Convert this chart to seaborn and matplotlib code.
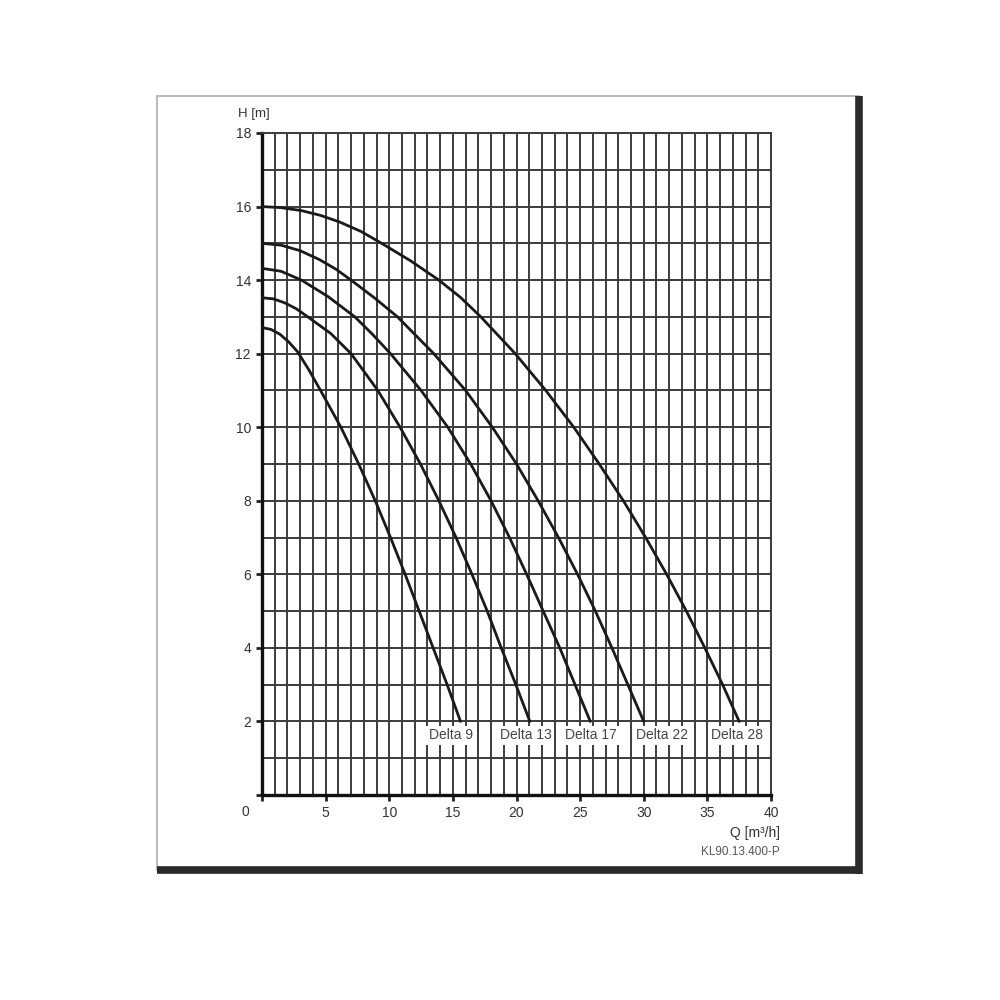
import seaborn as sns
import matplotlib.pyplot as plt
import numpy as np
import pandas as pd

# Pump curves: flow Q [m3/h] vs head H [m]
delta9_q = [0, 0.7, 1.4, 2.1, 2.8, 3.7, 4.6, 6.2, 7.6, 8.9, 10.1, 11.25, 12.35, 13.45, 14.55, 15.6]
delta9_h = [12.71, 12.66, 12.53, 12.32, 12.05, 11.55, 11, 10, 9, 8, 7, 6, 5, 4, 3, 2]

delta13_q = [0, 0.9, 1.8, 2.7, 3.6, 5.4, 7.0, 9.1, 10.85, 12.45, 13.9, 15.25, 16.5, 17.7, 18.8, 19.95, 21.05]
delta13_h = [13.52, 13.49, 13.38, 13.22, 13.0, 12.55, 12, 11, 10, 9, 8, 7, 6, 5, 4, 3, 2]

delta17_q = [0, 1.5, 3.1, 5.2, 7.3, 8.7, 10.1, 12.5, 14.6, 16.4, 18.0, 19.45, 20.8, 22.1, 23.4, 24.6, 25.8]
delta17_h = [14.32, 14.24, 14.0, 13.55, 13, 12.52, 12, 11, 10, 9, 8, 7, 6, 5, 4, 3, 2]

delta22_q = [0, 1.5, 3.0, 4.5, 5.8, 7.0, 8.9, 10.65, 13.5, 16.0, 18.1, 20.0, 21.7, 23.3, 24.8, 26.2, 27.5,
             28.75, 30.0]
delta22_h = [15, 14.95, 14.8, 14.56, 14.3, 14.0, 13.5, 13, 12, 11, 10, 9, 8, 7, 6, 5, 4, 3, 2]

delta28_q = [0, 1.5, 3.1, 4.6, 6.1, 7.8, 9.4, 11.7, 13.9, 15.6, 17.2, 19.9, 22.3, 24.5, 26.5, 28.4, 30.15,
             31.8, 33.35, 34.8, 36.2, 37.5]
delta28_h = [16, 15.97, 15.89, 15.76, 15.58, 15.32, 15, 14.52, 14, 13.53, 13, 12, 11, 10, 9, 8, 7, 6, 5, 4,
             3, 2]

models = ["Delta 9", "Delta 13", "Delta 17", "Delta 22", "Delta 28"]
label_q = [14.85, 20.75, 25.85, 31.4, 37.3]
label_h = 1.63

x_ticks = [0, 5, 10, 15, 20, 25, 30, 35, 40]
x_tick_labels = ["", "5", "10", "15", "20", "25", "30", "35", "40"]
y_ticks = [0, 2, 4, 6, 8, 10, 12, 14, 16, 18]
y_tick_labels = ["", "2", "4", "6", "8", "10", "12", "14", "16", "18"]

curves = {
    "Delta 9": (delta9_q, delta9_h),
    "Delta 13": (delta13_q, delta13_h),
    "Delta 17": (delta17_q, delta17_h),
    "Delta 22": (delta22_q, delta22_h),
    "Delta 28": (delta28_q, delta28_h),
}
df = pd.concat(
    [pd.DataFrame({"Q": q, "H": h, "model": name}) for name, (q, h) in curves.items()],
    ignore_index=True,
)

sns.set_style("white")
plt.rcParams["font.family"] = ["Liberation Sans", "DejaVu Sans"]

fig = plt.figure(figsize=(10, 10), dpi=100)
ax = fig.add_axes([0.262, 0.205, 0.509, 0.662])

sns.lineplot(
    data=df, x="Q", y="H", hue="model", units="model", estimator=None,
    palette=["#1a1a1a"] * 5, linewidth=2, legend=False, sort=False, ax=ax, zorder=4,
)
for line in ax.lines:
    line.set_solid_joinstyle("round")

ax.set_xlim(0, 40)
ax.set_ylim(0, 18)
ax.set_xticks(x_ticks)
ax.set_xticklabels(x_tick_labels)
ax.set_yticks(y_ticks)
ax.set_yticklabels(y_tick_labels)
ax.set_xticks(np.arange(0, 41, 1), minor=True)
ax.set_yticks(np.arange(0, 19, 1), minor=True)
ax.grid(which="both", color="#3c3c3c", linewidth=1.4)
ax.set_axisbelow(True)
ax.tick_params(which="minor", length=0)
ax.tick_params(which="major", direction="out", length=4, width=2, color="#222222",
               labelsize=10, labelcolor="#333333", pad=4, bottom=True, left=True)
ax.set_xlabel("")
ax.set_ylabel("")

for side in ["left", "bottom"]:
    ax.spines[side].set_color("#111111")
    ax.spines[side].set_linewidth(2.4)
for side in ["top", "right"]:
    ax.spines[side].set_color("#3c3c3c")
    ax.spines[side].set_linewidth(1.4)

for name, q in zip(models, label_q):
    ax.text(q, label_h, name, ha="center", va="center", fontsize=10, color="#444444", zorder=5,
            bbox=dict(facecolor="white", edgecolor="none", pad=1.8))

ax.annotate("0", xy=(0, 0), xytext=(-12, -12), textcoords="offset points",
            ha="center", va="center", fontsize=10, color="#333333")

fig.text(0.254, 1 - 0.114, "H [m]", ha="center", va="center", fontsize=9.5, color="#333333")
fig.text(0.780, 1 - 0.833, "Q [m³/h]", ha="right", va="center", fontsize=10, color="#333333")
fig.text(0.780, 1 - 0.852, "KL90.13.400-P", ha="right", va="center", fontsize=8.5, color="#555555")

# outer frame with a heavy shadow on the right and bottom
fig.add_artist(plt.Line2D([0.157, 0.157], [1 - 0.870, 1 - 0.096], color="#bbbbbb", lw=1.5))
fig.add_artist(plt.Line2D([0.157, 0.859], [1 - 0.096, 1 - 0.096], color="#bbbbbb", lw=1.5))
fig.add_artist(plt.Line2D([0.859, 0.859], [1 - 0.874, 1 - 0.096], color="#2a2a2a", lw=5.5,
                          solid_capstyle="butt"))
fig.add_artist(plt.Line2D([0.157, 0.862], [1 - 0.870, 1 - 0.870], color="#2a2a2a", lw=5.5,
                          solid_capstyle="butt"))

fig.savefig("out.png", dpi=100, facecolor="white")
